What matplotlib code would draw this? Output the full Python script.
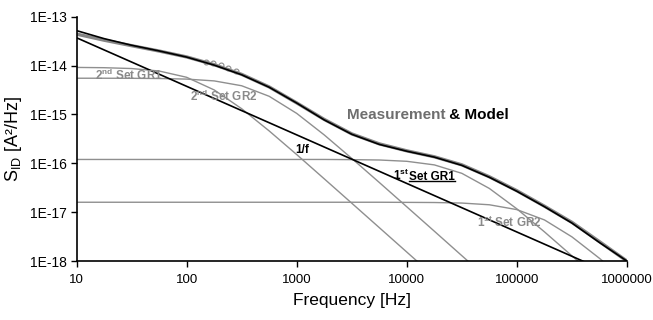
import numpy as np
import matplotlib
matplotlib.use('Agg')
import matplotlib.pyplot as plt
from matplotlib.ticker import FuncFormatter, FixedLocator, NullLocator

# frequency grid (Hz) at quarter decades
freq = [10, 17.8, 31.6, 56.2, 100, 178, 316, 562, 1000, 1778, 3162, 5623,
        10000, 17783, 31623, 56234, 100000, 177828, 316228, 562341, 1000000]

# 1/f component
flicker_f = [10, 1000000]
flicker = [3.7e-14, 4.0e-19]

# generation-recombination components
gr1_2nd = [9.15e-15, 9.03e-15, 8.68e-15, 7.73e-15, 5.75e-15, 3.17e-15, 1.31e-15,
           4.6e-16, 1.51e-16, 4.82e-17, 1.53e-17, 4.84e-18, 1.53e-18, 4.84e-19]
gr2_2nd = [5.5e-15, 5.5e-15, 5.48e-15, 5.43e-15, 5.28e-15, 4.85e-15, 3.86e-15,
           2.35e-15, 1.05e-15, 3.81e-16, 1.26e-16, 4.06e-17, 1.29e-17, 4.09e-18,
           1.29e-18, 4.09e-19]
gr1_1st = [1.2e-16, 1.2e-16, 1.2e-16, 1.2e-16, 1.2e-16, 1.2e-16, 1.2e-16, 1.2e-16,
           1.2e-16, 1.2e-16, 1.19e-16, 1.17e-16, 1.10e-16, 9.29e-17, 6.24e-17,
           3.06e-17, 1.17e-17, 3.97e-18, 1.28e-18, 4.09e-19]
gr2_1st = [1.6e-17, 1.6e-17, 1.6e-17, 1.6e-17, 1.6e-17, 1.6e-17, 1.6e-17, 1.6e-17,
           1.6e-17, 1.6e-17, 1.6e-17, 1.6e-17, 1.59e-17, 1.58e-17, 1.54e-17,
           1.42e-17, 1.13e-17, 6.96e-18, 3.13e-18, 1.14e-18, 3.8e-19]

# total model and measured spectrum
model = [5.18e-14, 3.55e-14, 2.60e-14, 1.99e-14, 1.49e-14, 1.02e-14, 6.48e-15,
         3.60e-15, 1.71e-15, 7.73e-16, 3.93e-16, 2.44e-16, 1.77e-16, 1.34e-16,
         9.09e-17, 5.18e-17, 2.68e-17, 1.30e-17, 6.0e-18, 2.4e-18, 1.0e-18]
meas = [4.4e-14, 3.3e-14, 2.55e-14, 1.98e-14, 1.5e-14, 1.04e-14, 6.6e-15,
        3.65e-15, 1.72e-15, 7.9e-16, 4.0e-16, 2.5e-16, 1.8e-16, 1.36e-16,
        9.3e-17, 5.3e-17, 2.75e-17, 1.33e-17, 6.2e-18, 2.5e-18, 1.0e-18]
meas_pts_f = [150, 175, 205, 240, 280]
meas_pts = [1.2e-14, 1.12e-14, 1.03e-14, 9.0e-15, 7.9e-15]

plt.rcParams['font.family'] = 'Liberation Sans'
plt.rcParams['mathtext.fontset'] = 'custom'
plt.rcParams['mathtext.rm'] = 'Liberation Sans'
plt.rcParams['mathtext.bf'] = 'Liberation Sans:bold'

fig = plt.figure(figsize=(6.53, 3.2), dpi=100)
ax = fig.add_axes([0.1172, 0.184, 0.843, 0.764])
ax.set_xscale('log')
ax.set_yscale('log')

comp = '#8f8f8f'
ax.plot(freq[:14], gr1_2nd, color=comp, lw=1)
ax.plot(freq[:16], gr2_2nd, color=comp, lw=1)
ax.plot(freq[:20], gr1_1st, color=comp, lw=1)
ax.plot(freq, gr2_1st, color=comp, lw=1)
ax.plot(flicker_f, flicker, color='black', lw=1.2)
ax.plot(freq, meas, color='#858585', lw=2.4, solid_capstyle='butt')
ax.plot(meas_pts_f, meas_pts, 'o', ms=3.5, mfc='none', mec='#8a8a8a', mew=0.8)
ax.plot(freq, model, color='black', lw=1.2)

ax.set_xlim(10, 1e6)
ax.set_ylim(1e-18, 1e-13)
ax.xaxis.set_major_locator(FixedLocator([10, 100, 1000, 1e4, 1e5, 1e6]))
ax.yaxis.set_major_locator(FixedLocator([1e-18, 1e-17, 1e-16, 1e-15, 1e-14, 1e-13]))
ax.xaxis.set_minor_locator(NullLocator())
ax.yaxis.set_minor_locator(NullLocator())
ax.xaxis.set_major_formatter(FuncFormatter(lambda v, p: '%d' % round(v)))
ax.yaxis.set_major_formatter(FuncFormatter(lambda v, p: '1E%d' % round(np.log10(v))))
ax.tick_params(direction='out', length=4, width=1, pad=3)
ax.tick_params(axis='x', labelsize=9.5, pad=5)
ax.tick_params(axis='y', labelsize=10)
for s in ['top', 'right']:
    ax.spines[s].set_visible(False)
for s in ['left', 'bottom']:
    ax.spines[s].set_linewidth(1.2)

ax.set_xlabel('Frequency [Hz]', fontsize=12.5, labelpad=5)
ax.set_ylabel(r'S$_{\mathregular{ID}}$ [A²/Hz]', fontsize=13, labelpad=4)

# curve labels
lab_gray = '#8a8a8a'
ax.text(14.7, 6.4e-15, r'2$^{\mathbf{nd}}$ Set GR1', color=lab_gray, fontsize=8.5,
        fontweight='bold', va='center')
ax.text(107, 2.37e-15, r'2$^{\mathbf{nd}}$ Set GR2', color=lab_gray, fontsize=8.5,
        fontweight='bold', va='center')
ax.text(966, 1.85e-16, '1/f', color='black', fontsize=8.5, fontweight='bold', va='center')
t1 = ax.text(7500, 5.7e-17, r'1$^{\mathbf{st}}$ ', color='black', fontsize=8.5,
             fontweight='bold', va='center')
t2 = ax.annotate('Set GR1', xy=(1, 0), xycoords=t1, va='bottom', ha='left',
                 color='black', fontsize=8.5, fontweight='bold')
ax.text(43400, 6.2e-18, r'1$^{\mathbf{st}}$ Set GR2', color=lab_gray, fontsize=8.5,
        fontweight='bold', va='center')
m1 = ax.text(2860, 9.6e-16, 'Measurement', color='#6e6e6e', fontsize=11,
             fontweight='bold', va='center')
ax.annotate(' & Model', xy=(1, 0), xycoords=m1, va='bottom', ha='left',
            color='black', fontsize=11, fontweight='bold')

# underline "Set GR1"
fig.canvas.draw()
bb = t2.get_window_extent()
W, H = fig.bbox.width, fig.bbox.height
fig.add_artist(plt.Line2D([bb.x0 / W, bb.x1 / W], [(bb.y0 + 2) / H, (bb.y0 + 2) / H],
                          color='black', lw=1, transform=fig.transFigure))

fig.savefig('out.png', dpi=100)
